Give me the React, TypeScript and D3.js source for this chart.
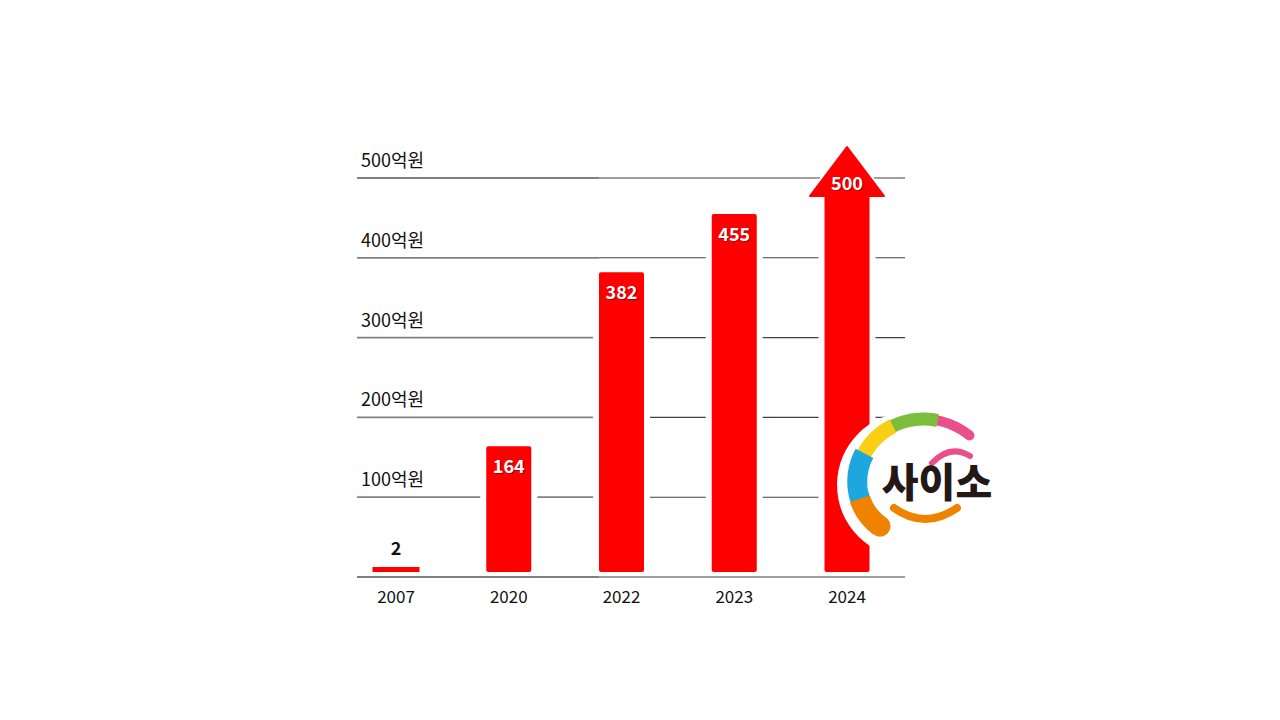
import React from "react";
import * as d3 from "d3";

const years = ["2007", "2020", "2022", "2023", "2024"];
const values = [2, 164, 382, 455, 500];
const tickValues = [100, 200, 300, 400, 500];
const tickLabels = ["100억원", "200억원", "300억원", "400억원", "500억원"];

const W = 1280;
const H = 720;
const FONT = "'Noto Sans CJK KR', 'Noto Sans', sans-serif";
const RED = "#ff0000";

export default function App() {
  const x = d3.scalePoint<string>().domain(years).range([396, 847]);
  const y = d3.scaleLinear().domain([0, 500]).range([577, 178]);
  const left = 357;
  const right = 905;
  const split = ((x("2020") as number) + (x("2022") as number)) / 2 + 34;
  const barW = 45;
  const base = y(0) - 5;
  const lastIdx = values.length - 1;

  // logo spiral helper (decorative)
  const cx = 915;
  const cy = 490;
  const rAt = (deg: number) => 50 + 0.148 * (deg + 138);
  const spiral = (a0: number, a1: number) => {
    const pts: [number, number][] = [];
    const n = 24;
    for (let i = 0; i <= n; i++) {
      const a = a0 + ((a1 - a0) * i) / n;
      const rad = (a * Math.PI) / 180;
      const r = rAt(a);
      pts.push([cx + r * Math.sin(rad), cy - r * Math.cos(rad)]);
    }
    return d3.line()(pts) as string;
  };
  const ringSegs = [
    { a0: 17, a1: 45, color: "#ea4f8c", w: 10, capEnd: true },
    { a0: -20, a1: 18, color: "#7cbd3c", w: 13 },
    { a0: -55, a1: -19, color: "#f8cf14", w: 15 },
    { a0: -100, a1: -54, color: "#1ea7df", w: 20 },
    { a0: -136, a1: -99, color: "#ef8300", w: 21, capEnd: true },
  ];

  return (
    <svg
      width={W}
      height={H}
      style={{ display: "block", position: "absolute", left: 0, top: 0 }}
      fontFamily={FONT}
    >
      <rect width={W} height={H} fill="#fff" />
      {/* gridlines */}
      {[0, ...tickValues].map((t) => (
        <g key={"g" + t}>
          <line x1={left} x2={split} y1={y(t)} y2={y(t)} stroke="#808080" strokeWidth={1.8} />
          <line x1={split} x2={right} y1={y(t)} y2={y(t)} stroke="#404040" strokeWidth={1.1} />
        </g>
      ))}
      {/* y tick labels */}
      {tickValues.map((t, i) => (
        <text key={"t" + t} x={361} y={y(t) - 11} fontSize={18} fill="#111">
          {tickLabels[i]}
        </text>
      ))}
      {/* bars with white halo */}
      {values.map((v, i) => {
        const cxb = x(years[i]) as number;
        if (i === lastIdx) {
          const shaftTop = y(v) + 18;
          const tip = y(v) - 31;
          const hw = 37;
          const head = `M${cxb - hw},${shaftTop} L${cxb},${tip} L${cxb + hw},${shaftTop} Z`;
          return (
            <g key={"b" + i}>
              <rect x={cxb - barW / 2 - 6} y={shaftTop} width={barW + 12} height={base - shaftTop} fill="#fff" />
              <path d={head} fill="#fff" stroke="#fff" strokeWidth={6} strokeLinejoin="round" />
              <rect x={cxb - barW / 2} y={shaftTop - 1} width={barW} height={base - shaftTop + 1} fill={RED} rx={2} />
              <path d={head} fill={RED} stroke={RED} strokeWidth={2} strokeLinejoin="round" />
            </g>
          );
        }
        const top = Math.min(y(v), base - 5);
        const w = i === 0 ? 47 : barW;
        return (
          <g key={"b" + i}>
            {i > 0 && <rect x={cxb - w / 2 - 6} y={top} width={w + 12} height={base - top} fill="#fff" />}
            <rect x={cxb - w / 2} y={top} width={w} height={base - top} fill={RED} rx={i === 0 ? 0 : 2} />
          </g>
        );
      })}
      {/* value labels */}
      {values.map((v, i) => {
        const cxb = x(years[i]) as number;
        if (i === 0) {
          return (
            <text key={"v" + i} x={cxb} y={base - 17} textAnchor="middle" fontSize={18} fontWeight={700} fill="#111">
              {v}
            </text>
          );
        }
        const ty = i === lastIdx ? y(v) + 12 : y(v) + 27;
        return (
          <g key={"v" + i}>
            <text x={cxb + 1} y={ty + 1} textAnchor="middle" fontSize={18} fontWeight={700} fill="#700" opacity={0.6}>
              {v}
            </text>
            <text x={cxb} y={ty} textAnchor="middle" fontSize={18} fontWeight={700} fill="#fff">
              {v}
            </text>
          </g>
        );
      })}
      {/* x labels */}
      {years.map((yr) => (
        <text key={"x" + yr} x={x(yr) as number} y={603} textAnchor="middle" fontSize={17} fill="#111">
          {yr}
        </text>
      ))}
      {/* logo */}
      <g>
        <circle cx={910} cy={485} r={73} fill="#fff" />
        {ringSegs.map((s, i) => {
          const capA = s.a0 === 17 ? s.a1 : s.a0;
          const capRad = (capA * Math.PI) / 180;
          const rc = rAt(capA);
          return (
            <g key={"r" + i}>
              <path d={spiral(s.a0, s.a1)} fill="none" stroke={s.color} strokeWidth={s.w} />
              {s.capEnd && (
                <circle cx={cx + rc * Math.sin(capRad)} cy={cy - rc * Math.cos(capRad)} r={s.w / 2} fill={s.color} />
              )}
            </g>
          );
        })}
        <path d="M932,463 Q950,444 970,456" fill="none" stroke="#ea4f8c" strokeWidth={6} strokeLinecap="round" />
        <path d="M894,508 Q925,530 957,508" fill="none" stroke="#ef8300" strokeWidth={8} strokeLinecap="round" />
        <text x={937} y={497} textAnchor="middle" fontSize={40} fontWeight={900} fill="#231815">
          사이소
        </text>
      </g>
    </svg>
  );
}
